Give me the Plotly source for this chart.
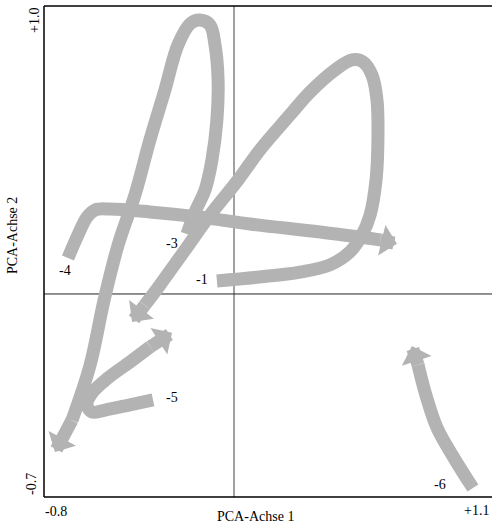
import plotly.graph_objects as go

# Trajectories in PCA space (Achse 1, Achse 2); each starts at its label and ends at the arrow tip
traj_labels = ["-3", "-4", "-1", "-5", "-6"]

t3_x = [-0.198, -0.164, -0.122, -0.093, -0.072, -0.067, -0.080, -0.101, -0.143, -0.185,
        -0.236, -0.291, -0.354, -0.417, -0.488, -0.547, -0.606, -0.682, -0.754]
t3_y = [0.208, 0.285, 0.361, 0.465, 0.604, 0.743, 0.865, 0.934, 0.951, 0.938,
        0.865, 0.708, 0.535, 0.344, 0.170, -0.021, -0.247, -0.438, -0.549]

t4_x = [-0.699, -0.657, -0.619, -0.585, -0.522, -0.354, -0.143, 0.067, 0.362, 0.615, 0.686]
t4_y = [0.125, 0.205, 0.267, 0.292, 0.295, 0.285, 0.267, 0.243, 0.215, 0.188, 0.174]

t1_x = [-0.072, 0.109, 0.278, 0.404, 0.488, 0.539, 0.573, 0.598, 0.606, 0.602, 0.581, 0.543,
        0.497, 0.425, 0.320, 0.236, 0.109, 0.017, -0.101, -0.206, -0.312, -0.375, -0.429]
t1_y = [0.045, 0.059, 0.076, 0.101, 0.146, 0.205, 0.274, 0.396, 0.535, 0.674, 0.760, 0.806,
        0.813, 0.778, 0.701, 0.622, 0.500, 0.396, 0.274, 0.153, 0.031, -0.038, -0.097]

t5_x = [-0.341, -0.438, -0.543, -0.598, -0.619, -0.598, -0.531, -0.438, -0.354, -0.261]
t5_y = [-0.368, -0.385, -0.403, -0.410, -0.385, -0.344, -0.292, -0.236, -0.184, -0.135]

t6_x = [1.006, 0.931, 0.855, 0.808, 0.775, 0.749]
t6_y = [-0.674, -0.576, -0.465, -0.351, -0.247, -0.181]

label_x = [-0.261, -0.712, -0.135, -0.261, 0.867]
label_y = [0.177, 0.083, 0.049, -0.361, -0.663]

x_range = [-0.8, 1.0863]
y_range = [-0.705, 1.0]
x_tick_text = ["-0.8", "+1.1"]
y_tick_text = ["+1.0", "-0.7"]
x_title = "PCA-Achse 1"
y_title = "PCA-Achse 2"

GRAY = "#b3b3b3"
FONT = "Liberation Serif, Times New Roman, serif"
W = 13

fig = go.Figure()
for xs, ys in [(t3_x, t3_y), (t4_x, t4_y), (t1_x, t1_y), (t5_x, t5_y), (t6_x, t6_y)]:
    n = len(xs) - 1
    # curved body up to the last point before the tip (round joint at its end)
    fig.add_trace(go.Scatter(
        x=xs[:-1], y=ys[:-1], mode="lines+markers",
        line=dict(color=GRAY, width=W, shape="spline", smoothing=1.0),
        marker=dict(size=[0] * (n - 1) + [W], color=GRAY, line=dict(width=0)),
        hoverinfo="skip", showlegend=False,
    ))
    # last segment with arrow head
    fig.add_annotation(
        x=xs[-1], y=ys[-1], ax=xs[-2], ay=ys[-2],
        xref="x", yref="y", axref="x", ayref="y",
        text="", width=1, height=1, borderpad=0, borderwidth=0,
        showarrow=True, arrowhead=1, arrowsize=0.4, arrowwidth=W,
        arrowcolor=GRAY, standoff=0, startstandoff=0,
    )

font = dict(family=FONT, size=14, color="black")
for txt, lx, ly in zip(traj_labels, label_x, label_y):
    fig.add_annotation(x=lx, y=ly, text=txt, showarrow=False, font=font,
                       xanchor="center", yanchor="middle")

# axis end labels and titles
ann = [
    (0.027, -0.0305, x_tick_text[0], 0),
    (0.9665, -0.0265, x_tick_text[1], 0),
    (-0.0201, 0.9715, y_tick_text[0], -90),
    (-0.0268, 0.0265, y_tick_text[1], -90),
    (0.473, -0.0387, x_title, 0),
    (-0.069, 0.5316, y_title, -90),
]
for ax_, ay_, txt, ang in ann:
    fig.add_annotation(xref="paper", yref="paper", x=ax_, y=ay_, text=txt,
                       textangle=ang, showarrow=False, font=font,
                       xanchor="center", yanchor="middle")

shapes = [
    dict(type="line", xref="x", yref="paper", x0=0, x1=0, y0=0, y1=1,
         line=dict(color="#444444", width=1), layer="below"),
    dict(type="line", xref="paper", yref="y", x0=0, x1=1, y0=0, y1=0,
         line=dict(color="#222222", width=1), layer="below"),
    dict(type="line", xref="paper", yref="paper", x0=0, x1=0, y0=0, y1=1,
         line=dict(color="black", width=1.5), layer="below"),
    dict(type="line", xref="paper", yref="paper", x0=0, x1=1, y0=1, y1=1,
         line=dict(color="black", width=1.5), layer="below"),
    dict(type="line", xref="paper", yref="paper", x0=0, x1=1, y0=0, y1=0,
         line=dict(color="black", width=1.5), layer="below"),
]

fig.update_layout(
    width=492, height=528,
    margin=dict(l=44, r=0, t=6, b=31),
    paper_bgcolor="white", plot_bgcolor="white",
    xaxis=dict(range=x_range, visible=False, fixedrange=True),
    yaxis=dict(range=y_range, visible=False, fixedrange=True),
    shapes=shapes,
    showlegend=False,
)

fig.write_html("out.html", config={"displayModeBar": False},
               post_script="document.body.style.margin='0px';document.body.style.overflow='hidden';")
